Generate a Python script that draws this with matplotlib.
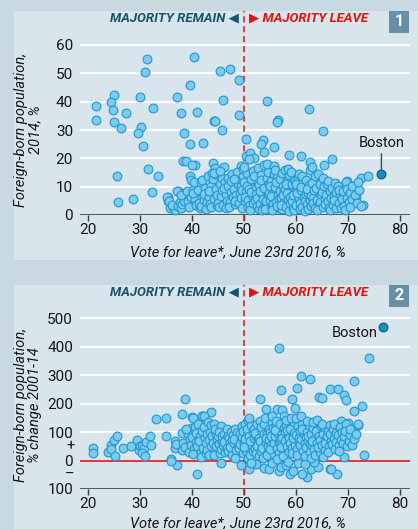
import matplotlib
matplotlib.use("Agg")
import matplotlib.pyplot as plt
from matplotlib.patches import Rectangle
import numpy as np

plt.rcParams['font.family'] = ['Roboto', 'DejaVu Sans']

# ---- data: (vote for leave %, value) ----
# panel 1: foreign-born population 2014, %
p1_sparse = [(21.5, 38.5), (21.5, 33.5), (25.1, 42.5), (24.4, 39.8), (24.8, 37), (25.1, 32.8), (26.3, 30.8),
             (27.3, 36.1), (25.7, 13.7), (25.8, 4.5), (28.7, 5.8), (31.4, 55), (31.1, 50.6), (30.1, 41.8),
             (32.6, 37.9), (30.2, 31.1), (29.7, 29), (30.7, 24.4), (31.5, 16.3), (33.5, 13.8), (32.4, 8),
             (40.4, 55.9), (39.7, 45.9), (37.2, 41.5), (37.9, 36.1), (41, 36.4), (38.5, 28.8), (39.7, 25.2),
             (42.1, 25.4), (45.5, 50.8), (47.3, 51.6), (49, 47.8), (46.1, 40.5), (49, 35.3), (44.2, 33.1),
             (44.5, 33.3), (45.8, 30), (50.4, 26.8), (38.3, 19.1), (38.9, 19), (40.6, 17.8), (44, 18.4),
             (46.2, 16.8), (50.4, 20.7), (49.5, 17.3), (54.4, 40.2), (62.6, 37.3), (56.6, 33.6), (56.5, 33),
             (65.2, 29.8), (53.8, 26.5), (53.3, 25), (54, 22.4), (55.8, 23.9), (58.7, 21.1), (61, 20.7),
             (66.9, 19.9), (62.8, 18.6), (65.5, 17.5), (64.5, 13.8), (72.5, 13.1), (73.9, 13.8), (73, 3.6),
             (71.7, 6.5), (71.1, 9.8), (69.9, 12.1), (51.2, 22), (52, 20), (35.4, 6.2), (35.4, 5.0),
             (37.3, 8.5), (44.5, 16.7)]
p1_dense = [(35.3, 6.4), (35.6, 4.8), (35.9, 2.6), (36.4, 2.9), (36.8, 1.9), (36.2, 3.5),
            (37.1, 8.6), (37.4, 3.2), (37.7, 4.5), (37.9, 2.4), (38.2, 3.8), (38.6, 5.1), (38.0, 7.0),
            (39.1, 8.3), (39.3, 4.9), (39.6, 13.9), (39.8, 12.4), (39.5, 2.9), (39.9, 6.5),
            (40.2, 9.0), (40.5, 11.5), (40.7, 5.8), (40.9, 3.6), (40.3, 7.7), (40.1, 17.8),
            (41.2, 8.8), (41.5, 2.6), (41.7, 11.6), (41.9, 6.0), (41.4, 4.3), (41.8, 3.3),
            (42.0, 12.3), (42.3, 5.3), (42.6, 9.6), (42.8, 2.1), (42.4, 7.4), (42.9, 4.5),
            (43.1, 13.9), (43.4, 6.4), (43.6, 3.8), (43.8, 10.1), (43.3, 8.5), (43.9, 14.9), (43.7, 2.7),
            (44.1, 12.6), (44.3, 5.5), (44.6, 9.2), (44.8, 3.6), (44.4, 14.4), (44.9, 7.1), (44.2, 15.0),
            (45.1, 4.2), (45.4, 10.8), (45.6, 6.8), (45.8, 13.2), (45.3, 2.8), (45.9, 8.9), (45.5, 15.5),
            (46.1, 3.5), (46.4, 11.7), (46.6, 7.4), (46.8, 5.0), (46.3, 9.6), (46.9, 13.1), (46.5, 2.5),
            (47.0, 10.4), (47.3, 4.6), (47.5, 8.2), (47.7, 14.3), (47.9, 6.2), (47.2, 2.9), (47.6, 12.0),
            (48.1, 9.3), (48.3, 3.9), (48.5, 6.9), (48.7, 15.2), (48.9, 11.1), (48.4, 5.1), (48.2, 12.8),
            (49.1, 4.4), (49.3, 7.8), (49.5, 10.3), (49.7, 2.5), (49.9, 13.7), (49.4, 5.9), (49.8, 16.1), (49.6, 8.9),
            (50.0, 11.8), (50.2, 4.8), (50.4, 8.3), (50.6, 14.9), (50.8, 2.9), (50.3, 6.3), (50.7, 10.2), (50.1, 17.1), (50.9, 5.4),
            (51.0, 9.1), (51.2, 3.6), (51.4, 12.6), (51.6, 6.9), (51.8, 15.6), (51.3, 1.9), (51.7, 4.3), (51.5, 8.0), (51.1, 19.6),
            (52.0, 13.9), (52.2, 5.2), (52.4, 9.8), (52.6, 3.1), (52.8, 11.4), (52.3, 7.4), (52.7, 16.6), (52.9, 2.2), (52.5, 6.0),
            (53.0, 10.7), (53.2, 4.0), (53.4, 14.2), (53.6, 7.3), (53.8, 2.6), (53.3, 12.3), (53.7, 5.6), (53.1, 8.6), (53.9, 17.8), (53.5, 1.7),
            (54.0, 9.6), (54.2, 3.3), (54.4, 13.1), (54.6, 6.5), (54.8, 11.0), (54.3, 4.9), (54.7, 15.2), (54.1, 2.1), (54.9, 7.9), (54.5, 18.1),
            (55.0, 5.4), (55.2, 12.1), (55.4, 2.8), (55.6, 8.8), (55.8, 14.6), (55.3, 6.7), (55.7, 3.9), (55.1, 10.3), (55.9, 17.2), (55.5, 1.6),
            (56.0, 9.9), (56.2, 4.5), (56.4, 13.5), (56.6, 7.0), (56.8, 2.4), (56.3, 11.6), (56.7, 5.8), (56.1, 15.8), (56.9, 8.3), (56.5, 3.2),
            (57.0, 12.8), (57.2, 6.1), (57.4, 2.0), (57.6, 10.4), (57.8, 4.7), (57.3, 14.9), (57.7, 8.5), (57.1, 3.5), (57.9, 16.0), (57.5, 6.9),
            (58.0, 9.2), (58.2, 3.0), (58.4, 12.0), (58.6, 5.5), (58.8, 1.3), (58.3, 7.7), (58.7, 14.1), (58.1, 11.0), (58.9, 4.2), (58.5, 16.4),
            (59.0, 6.4), (59.2, 10.8), (59.4, 2.6), (59.6, 13.2), (59.8, 8.0), (59.3, 4.8), (59.7, 1.7), (59.1, 15.1), (59.9, 11.9), (59.5, 7.1),
            (60.0, 3.6), (60.2, 9.4), (60.4, 12.6), (60.6, 5.9), (60.8, 2.2), (60.3, 7.6), (60.7, 14.5), (60.1, 11.1), (60.9, 4.4),
            (61.0, 8.7), (61.2, 2.9), (61.4, 11.6), (61.6, 6.2), (61.8, 1.4), (61.3, 13.9), (61.7, 4.8), (61.1, 9.9), (61.9, 7.4),
            (62.0, 12.2), (62.2, 3.8), (62.4, 7.9), (62.6, 10.5), (62.8, 5.2), (62.3, 2.2), (62.7, 15.8), (62.1, 9.1), (62.9, 6.6),
            (63.0, 3.1), (63.2, 11.4), (63.4, 6.0), (63.6, 8.8), (63.8, 13.6), (63.3, 4.4), (63.7, 2.4), (63.1, 16.9),
            (64.0, 9.5), (64.2, 5.3), (64.4, 3.4), (64.6, 11.0), (64.8, 7.2), (64.3, 14.6), (64.7, 4.6), (64.1, 1.9),
            (65.0, 8.2), (65.2, 2.9), (65.4, 10.4), (65.6, 5.7), (65.8, 7.0), (65.3, 12.9), (65.7, 3.8),
            (66.0, 10.8), (66.2, 4.9), (66.4, 2.3), (66.6, 8.6), (66.8, 6.1), (66.3, 12.1), (66.7, 1.6),
            (67.0, 9.6), (67.2, 3.4), (67.4, 6.7), (67.6, 11.3), (67.8, 2.6), (67.3, 5.3), (67.7, 8.1),
            (68.1, 10.2), (68.3, 4.1), (68.5, 7.3), (68.8, 2.4), (68.4, 9.0), (68.9, 5.6),
            (69.1, 8.3), (69.3, 3.3), (69.6, 11.6), (69.8, 6.0), (69.4, 1.9), (69.9, 9.1),
            (70.2, 4.6), (70.5, 7.8), (70.8, 10.4), (70.4, 2.8), (70.9, 5.7),
            (71.4, 6.9), (71.8, 4.3), (72.2, 8.9), (72.6, 3.2), (71.9, 11.5)]
boston_1 = (76.5, 14.6)

# panel 2: foreign-born population, % change 2001-14
p2_sparse = [(21.0, 45), (21.0, 27), (23.9, 30), (24.4, 53), (24.4, 42), (25.1, 73), (25.7, 85), (25.3, 16),
             (26.8, 45), (28.3, 51), (29.4, 71), (29.8, 37), (30.1, 50), (30.5, 52), (30.9, 43), (30.4, 28),
             (31.1, 15), (31.2, 66), (32.0, 87), (32.2, 53), (33.2, 145), (35.0, 149), (35.1, 86), (36.7, 69),
             (36.7, 45), (36.0, 5), (37.2, -14), (38.1, 165), (38.7, 216), (41.0, -49), (43.7, 169), (41.9, 155),
             (40.1, 152), (45.6, -9), (49.5, -16), (38.1, 37), (38.1, 98), (39.8, 113), (40.3, 150), (36.9, 57),
             (56.7, 396), (74.2, 362), (61.0, 296), (62.8, 287), (71.3, 279), (57.2, 248), (60.3, 255),
             (66.6, 252), (68.1, 252), (69.3, 230), (69.7, 212), (64.5, 222), (65.1, 221), (53.1, 215),
             (59.3, 216), (72.8, 192), (71.3, 174), (54.2, 180), (56.5, 182), (57.4, 176), (59.8, 185),
             (73.1, 21), (69.3, 11), (67.9, -49), (66.6, -31), (62.1, -59), (61.2, -47), (59.0, -47),
             (72.0, 124), (72.0, 129), (70.1, 133), (68.7, 140),
             (36.0, -2), (51.1, -31), (51.1, 2), (54.0, -25), (54.8, -31), (56.7, -36), (57.1, -24), (59.4, -35),
             (62.9, -31), (64.3, -24), (66.8, -29), (60.5, -10), (61.8, -12), (55.5, -8), (58.2, -14),
             (63.5, -5), (52.4, -12)]
p2_dense = [(38.4, 62), (38.8, 48), (39.2, 92), (39.5, 30), (39.7, 75), (38.9, 110), (39.9, 55),
            (40.1, 82), (40.4, 40), (40.6, 118), (40.8, 65), (40.3, 22), (40.9, 98),
            (41.1, 52), (41.3, 128), (41.5, 85), (41.7, 30), (41.9, 155), (41.4, 70), (41.8, 12),
            (42.0, 105), (42.2, 45), (42.4, 155), (42.6, 78), (42.8, 25), (42.3, 118), (42.7, 60), (42.9, 92),
            (43.0, 38), (43.2, 135), (43.4, 72), (43.6, 100), (43.8, 52), (43.3, 18), (43.7, 125), (43.9, 85),
            (44.1, 62), (44.3, 130), (44.5, 35), (44.7, 95), (44.9, 75), (44.4, 110), (44.6, 50), (44.2, 20),
            (45.0, 88), (45.2, 58), (45.4, 25), (45.6, 120), (45.8, 70), (45.3, 100), (45.7, 40), (45.9, 85),
            (46.0, 55), (46.2, 95), (46.4, 30), (46.6, 75), (46.8, 110), (46.3, 65), (46.7, 45), (46.9, 88),
            (47.0, 35), (47.2, 80), (47.4, 60), (47.6, 100), (47.8, 20), (47.3, 48), (47.7, 72), (47.9, 90),
            (48.1, 62), (48.3, 112), (48.5, 38), (48.7, 85), (48.9, 55), (48.4, 8), (48.8, 98), (48.2, 75),
            (49.0, 45), (49.2, 95), (49.4, 70), (49.6, 120), (49.8, 28), (49.3, 58), (49.7, 82), (49.9, 105),
            (50.0, 62), (50.2, 128), (50.4, 35), (50.6, 90), (50.8, 10), (50.3, 75), (50.7, 110), (50.1, 48), (50.9, 142),
            (51.0, 85), (51.2, 20), (51.4, 125), (51.6, 55), (51.8, 100), (51.3, 68), (51.7, 35), (51.1, 148), (51.9, 78), (51.5, -10),
            (52.0, 110), (52.2, 42), (52.4, 88), (52.6, 130), (52.8, 60), (52.3, 25), (52.7, 72), (52.1, 98), (52.9, 15), (52.5, 50),
            (53.0, 80), (53.2, 140), (53.4, 35), (53.6, 105), (53.8, 58), (53.3, 118), (53.7, 8), (53.1, 68), (53.9, 92), (53.5, 45),
            (54.0, 128), (54.2, 65), (54.4, 95), (54.6, 30), (54.8, 112), (54.3, 80), (54.7, 50), (54.1, 148), (54.9, 72), (54.5, 18),
            (55.0, 100), (55.2, 55), (55.4, 135), (55.6, 78), (55.8, 22), (55.3, 88), (55.7, 115), (55.1, 40), (55.9, 62), (55.5, 158),
            (56.0, 85), (56.2, 120), (56.4, 45), (56.6, 98), (56.8, 65), (56.3, 140), (56.7, 28), (56.1, 108), (56.9, 75), (56.5, 5),
            (57.0, 130), (57.2, 60), (57.4, 92), (57.6, 38), (57.8, 115), (57.3, 78), (57.7, 155), (57.1, 48), (57.9, 100), (57.5, 15),
            (58.0, 70), (58.2, 125), (58.4, 52), (58.6, 95), (58.8, 30), (58.3, 108), (58.7, 80), (58.1, 142), (58.9, 62), (58.5, -5),
            (59.0, 112), (59.2, 45), (59.4, 88), (59.6, 135), (59.8, 68), (59.3, 25), (59.7, 98), (59.1, 150), (59.9, 55), (59.5, 78),
            (60.0, 90), (60.2, 40), (60.4, 120), (60.6, 65), (60.8, 105), (60.3, 20), (60.7, 80), (60.1, 148), (60.9, 55),
            (61.0, 75), (61.2, 130), (61.4, 35), (61.6, 95), (61.8, 60), (61.3, 110), (61.7, 15), (61.1, 155), (61.9, 82),
            (62.0, 48), (62.2, 100), (62.4, 70), (62.6, 125), (62.8, 30), (62.3, 88), (62.7, 58), (62.1, 140), (62.9, 10),
            (63.0, 92), (63.2, 55), (63.4, 115), (63.6, 40), (63.8, 78), (63.3, 135), (63.7, 20), (63.1, 68),
            (64.0, 105), (64.2, 62), (64.4, 85), (64.6, 30), (64.8, 120), (64.3, 48), (64.7, 72), (64.1, 142),
            (65.0, 55), (65.2, 95), (65.4, 118), (65.6, 38), (65.8, 75), (65.3, 12), (65.7, 62), (65.1, 130),
            (66.0, 85), (66.2, 105), (66.4, 50), (66.6, 125), (66.8, 68), (66.3, 30), (66.7, 92),
            (67.0, 58), (67.2, 112), (67.4, 80), (67.6, 40), (67.8, 98), (67.3, 130), (67.7, 65),
            (68.1, 90), (68.3, 55), (68.5, 118), (68.8, 72), (68.4, 35), (68.9, 100),
            (69.1, 62), (69.3, 85), (69.6, 130), (69.8, 50), (69.4, 105),
            (70.2, 68), (70.5, 90), (70.8, 55), (70.4, 112),
            (71.3, 75), (71.7, 95)]
boston_2 = (76.8, 468)

x_ticks = [20, 30, 40, 50, 60, 70, 80]
y_ticks_1 = [0, 10, 20, 30, 40, 50, 60]
y_ticks_2 = [-100, 0, 100, 200, 300, 400, 500]
y_labels_2 = ['100', '0', '100', '200', '300', '400', '500']

# ---- colours ----
BG_OUT = '#c9d9e2'
BG_PANEL = '#d9e5ec'
DOT = '#7ccbee'
DOT_EDGE = '#1f97d1'
RED = '#e3120b'
TEAL = '#17536a'
BOX = '#6590a8'
AXC = '#3c3c3c'
TXT = '#151515'

W, H = 418, 529
fig = plt.figure(figsize=(W / 100, H / 100), dpi=100, facecolor=BG_OUT)


def fy(py):
    return 1 - py / H


# panel backgrounds
fig.patches.append(Rectangle((14 / W, fy(260)), 1, 249 / H, transform=fig.transFigure,
                             facecolor=BG_PANEL, edgecolor='none', zorder=-5))
fig.patches.append(Rectangle((14 / W, 0), 1, 244 / H, transform=fig.transFigure,
                             facecolor=BG_PANEL, edgecolor='none', zorder=-5))

ax1 = fig.add_axes([80 / W, fy(215), 330 / W, 204 / H])
ax2 = fig.add_axes([80 / W, fy(489), 330 / W, 204 / H])


def style(ax, yticks, ylabels, ylim, baseline):
    ax.set_facecolor('none')
    ax.set_xlim(18.5, 82)
    ax.set_ylim(*ylim)
    for s in ax.spines.values():
        s.set_visible(False)
    ax.set_xticks(x_ticks)
    ax.set_yticks(yticks)
    ax.set_yticklabels(ylabels)
    ax.tick_params(axis='y', length=0, pad=5, labelsize=11, labelcolor=TXT)
    ax.tick_params(axis='x', length=4, width=1, color=AXC, pad=2, labelsize=11, labelcolor=TXT)
    for t in yticks:
        if t > baseline:
            ax.axhline(t, color='white', lw=1.3, zorder=1)
    ax.axhline(baseline, color=AXC, lw=1.2, zorder=2)
    ax.axvline(50, color=RED, lw=1.1, ls=(0, (4, 2.5)), zorder=2, ymin=-0.03, ymax=1, clip_on=False)
    ax.text(49.0, ylim[1] - (ylim[1] - ylim[0]) * 0.034, 'MAJORITY REMAIN \u25c0', ha='right', va='center',
            color=TEAL, fontsize=9.5, style='italic', fontweight='semibold')
    ax.text(51.0, ylim[1] - (ylim[1] - ylim[0]) * 0.034, '\u25b6 MAJORITY LEAVE', ha='left', va='center',
            color=RED, fontsize=9.5, style='italic', fontweight='semibold')


def dots(ax, pts, boston):
    pts = np.array(pts)
    ax.scatter(pts[:, 0], pts[:, 1], s=40, facecolor=DOT, edgecolor=DOT_EDGE, linewidth=0.8,
               zorder=3, clip_on=False)
    ax.scatter([boston[0]], [boston[1]], s=40, facecolor='#1a8dc4', edgecolor='#0c5a80',
               linewidth=0.8, zorder=4, clip_on=False)


style(ax1, y_ticks_1, [str(t) for t in y_ticks_1], (0, 72), 0)
style(ax2, y_ticks_2, y_labels_2, (-100, 617), -100)
ax2.axhline(0, color=RED, lw=1.2, zorder=2)

dots(ax1, p1_sparse + p1_dense, boston_1)
dots(ax2, p2_sparse + p2_dense, boston_2)

# Boston labels
ax1.annotate('Boston', xy=boston_1, xytext=(boston_1[0], boston_1[1] + 8.5), ha='center', va='bottom',
             fontsize=10.5, color=TXT,
             arrowprops=dict(arrowstyle='-', color='#0c5a80', lw=1, shrinkA=1, shrinkB=3))
ax2.text(boston_2[0] - 1.1, boston_2[1] - 18, 'Boston', ha='right', va='center', fontsize=10.5, color=TXT)

# +/- signs beside zero
ax2.text(-0.03, 50, '+', transform=ax2.get_yaxis_transform(), ha='center', va='center', fontsize=10.5, color=TXT)
ax2.text(-0.03, -50, '\u2013', transform=ax2.get_yaxis_transform(), ha='center', va='center', fontsize=10.5, color=TXT)

# axis titles
fig.text(28 / W, fy(130), 'Foreign-born population,\n2014, %', rotation=90, ha='center', va='center',
         fontsize=10.5, style='italic', color=TXT, multialignment='center', linespacing=1.05)
fig.text(28 / W, fy(405), 'Foreign-born population,\n% change 2001-14', rotation=90, ha='center', va='center',
         fontsize=10.5, style='italic', color=TXT, multialignment='center', linespacing=1.05)
fig.text(238 / W, fy(252), 'Vote for leave*, June 23rd 2016, %', ha='center', va='center',
         fontsize=10.5, style='italic', color=TXT)
fig.text(238 / W, fy(523), 'Vote for leave*, June 23rd 2016, %', ha='center', va='center',
         fontsize=10.5, style='italic', color=TXT)

# panel number boxes
for num, top in [('1', 11), ('2', 285)]:
    fig.patches.append(Rectangle((389 / W, fy(top + 22)), 20 / W, 22 / H, transform=fig.transFigure,
                                 facecolor=BOX, edgecolor='none', zorder=5))
    fig.text(399 / W, fy(top + 11), num, ha='center', va='center', color='white',
             fontsize=11.5, fontweight='bold', zorder=6)

fig.savefig('out.png', dpi=100, facecolor=BG_OUT)
